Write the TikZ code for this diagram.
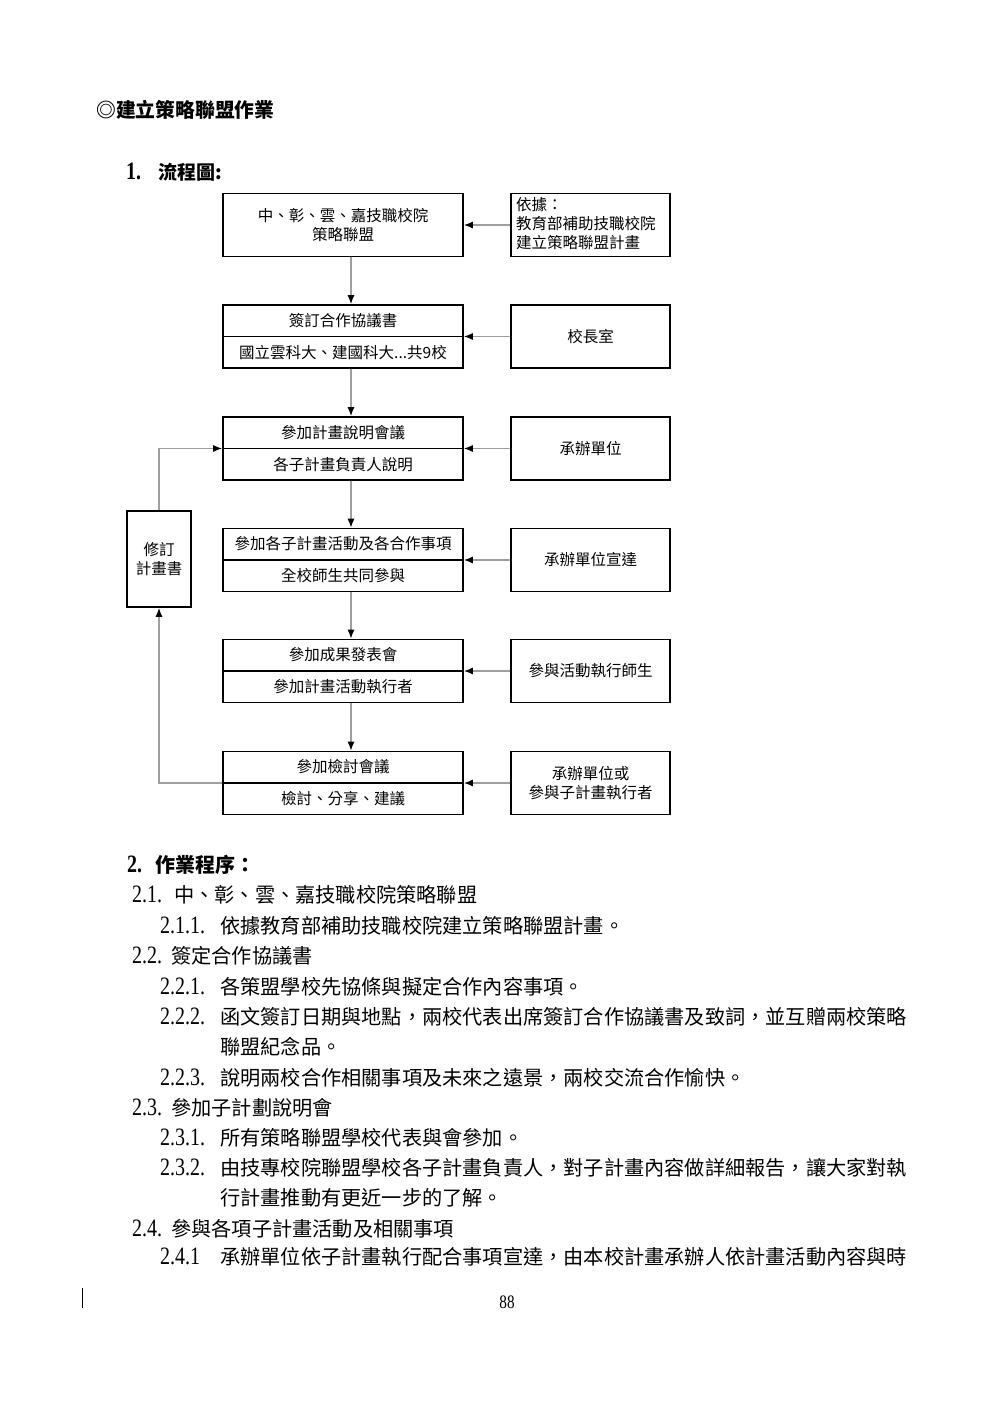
\documentclass[tikz,border=0pt]{standalone}
\usepackage{fontspec}
\setmainfont{Noto Sans CJK TC}
\newfontfamily\numfont[FakeStretch=0.8]{Liberation Serif}
\usetikzlibrary{arrows.meta,positioning}
\definecolor{linegray}{gray}{0.62}
\tikzset{
  box/.style={draw=black,line width=1.6pt,minimum width=240pt,minimum height=63pt,inner sep=0pt},
  srcbox/.style={draw=black,line width=1.6pt,minimum width=159pt,minimum height=63pt,inner sep=0pt,
    font=\fontsize{15.5}{19}\selectfont,align=center},
  boxtxt/.style={font=\fontsize{15.5}{19}\selectfont,inner sep=0pt,align=center},
  flow/.style={draw=linegray,line width=1.3pt,-{Latex[black,length=9pt,width=7pt]}},
  bodytxt/.style={font=\fontsize{20.2}{30}\selectfont,anchor=west,inner sep=0pt},
}
\newcommand{\numlab}[2]{\makebox[#1pt][l]{\numfont\fontsize{25}{30}\selectfont #2}}
\begin{document}
\begin{tikzpicture}[x=1pt,y=-1pt]
\useasboundingbox (0,0) rectangle (1000,1415);

%Headings
\node[bodytxt,font=\fontsize{19.8}{24}\selectfont\bfseries] (title) at (96,110) {◎建立策略聯盟作業};
\node[bodytxt,font=\fontsize{19}{24}\selectfont\bfseries] (head1) at (126,172) {\numlab{32}{1.}流程圖:};

%Main boxes
\def\mx{343}
\node[box] (b1) at (\mx,225) {};
\node[boxtxt] (b1t) at (\mx,225) {中、彰、雲、嘉技職校院\\策略聯盟};
\node[box] (b2) at (\mx,336.5) {};
\node[box] (b3) at (\mx,448.5) {};
\node[box] (b4) at (\mx,560) {};
\node[box] (b5) at (\mx,671) {};
\node[box] (b6) at (\mx,783) {};
\foreach \b in {b2,b3,b4,b5,b6}
  \draw[line width=1.6pt] (\b.west) -- (\b.east);

%Box texts
\node[boxtxt] (b2a) at (\mx,320.5) {簽訂合作協議書};
\node[boxtxt] (b2b) at (\mx,352.5) {國立雲科大、建國科大...共9校};
\node[boxtxt] (b3a) at (\mx,432.5) {參加計畫說明會議};
\node[boxtxt] (b3b) at (\mx,464.5) {各子計畫負責人說明};
\node[boxtxt] (b4a) at (\mx,544) {參加各子計畫活動及各合作事項};
\node[boxtxt] (b4b) at (\mx,576) {全校師生共同參與};
\node[boxtxt] (b5a) at (\mx,655) {參加成果發表會};
\node[boxtxt] (b5b) at (\mx,687) {參加計畫活動執行者};
\node[boxtxt] (b6a) at (\mx,767) {參加檢討會議};
\node[boxtxt] (b6b) at (\mx,799) {檢討、分享、建議};

%Source boxes
\def\rx{590.5}
\node[srcbox] (r1) at (\rx,225) {};
\node[boxtxt,align=left,anchor=west] (r1t) at (516,224) {依據：\\教育部補助技職校院\\建立策略聯盟計畫};
\node[srcbox] (r2) at (\rx,336.5) {校長室};
\node[srcbox] (r3) at (\rx,448.5) {承辦單位};
\node[srcbox] (r4) at (\rx,560) {承辦單位宣達};
\node[srcbox] (r5) at (\rx,671) {參與活動執行師生};
\node[srcbox] (r6) at (\rx,783) {承辦單位或\\參與子計畫執行者};

%Revision box
\node[srcbox,minimum width=64pt,minimum height=96pt] (rev) at (159,559) {修訂\\計畫書};

%Connectors
\draw[flow] ([xshift=8pt]b1.south) -- ([xshift=8pt]b2.north);
\draw[flow] ([xshift=8pt]b2.south) -- ([xshift=8pt]b3.north);
\draw[flow] ([xshift=8pt]b3.south) -- ([xshift=8pt]b4.north);
\draw[flow] ([xshift=8pt]b4.south) -- ([xshift=8pt]b5.north);
\draw[flow] ([xshift=8pt]b5.south) -- ([xshift=8pt]b6.north);
\draw[flow] (r1.west) -- (b1.east);
\draw[flow] (r2.west) -- (b2.east);
\draw[flow] (r3.west) -- (b3.east);
\draw[flow] (r4.west) -- (b4.east);
\draw[flow] (r5.west) -- (b5.east);
\draw[flow] (r6.west) -- (b6.east);
\draw[flow] (b6.west) -| (rev.south);
\draw[flow] (rev.north) |- (b3.west);

%Procedure text
\node[bodytxt,font=\fontsize{20}{30}\selectfont\bfseries] (l0) at (127,865) {\numlab{28}{2.}作業程序：};
\node[bodytxt] (l1) at (132,895) {\numlab{42}{2.1.}中、彰、雲、嘉技職校院策略聯盟};
\node[bodytxt] (l2) at (160,926) {\numlab{60}{2.1.1.}依據教育部補助技職校院建立策略聯盟計畫。};
\node[bodytxt] (l3) at (132,956) {\numlab{39}{2.2.}簽定合作協議書};
\node[bodytxt] (l4) at (160,987) {\numlab{60}{2.2.1.}各策盟學校先協條與擬定合作內容事項。};
\node[bodytxt] (l5) at (160,1017) {\numlab{60}{2.2.2.}函文簽訂日期與地點，兩校代表出席簽訂合作協議書及致詞，並互贈兩校策略};
\node[bodytxt] (l6) at (220,1047) {聯盟紀念品。};
\node[bodytxt] (l7) at (160,1078) {\numlab{60}{2.2.3.}說明兩校合作相關事項及未來之遠景，兩校交流合作愉快。};
\node[bodytxt] (l8) at (132,1108) {\numlab{39}{2.3.}參加子計劃說明會};
\node[bodytxt] (l9) at (160,1138) {\numlab{60}{2.3.1.}所有策略聯盟學校代表與會參加。};
\node[bodytxt] (l10) at (160,1168) {\numlab{60}{2.3.2.}由技專校院聯盟學校各子計畫負責人，對子計畫內容做詳細報告，讓大家對執};
\node[bodytxt] (l11) at (220,1198) {行計畫推動有更近一步的了解。};
\node[bodytxt] (l12) at (132,1229) {\numlab{39}{2.4.}參與各項子計畫活動及相關事項};
\node[bodytxt] (l13) at (160,1257) {\numlab{60}{2.4.1}承辦單位依子計畫執行配合事項宣達，由本校計畫承辦人依計畫活動內容與時};

%Footer
\node[font=\numfont\fontsize{19}{19}\selectfont,inner sep=0pt] (pnum) at (507,1302) {88};
\draw[line width=1.6pt] (82.5,1288) -- (82.5,1308);
\end{tikzpicture}
\end{document}
